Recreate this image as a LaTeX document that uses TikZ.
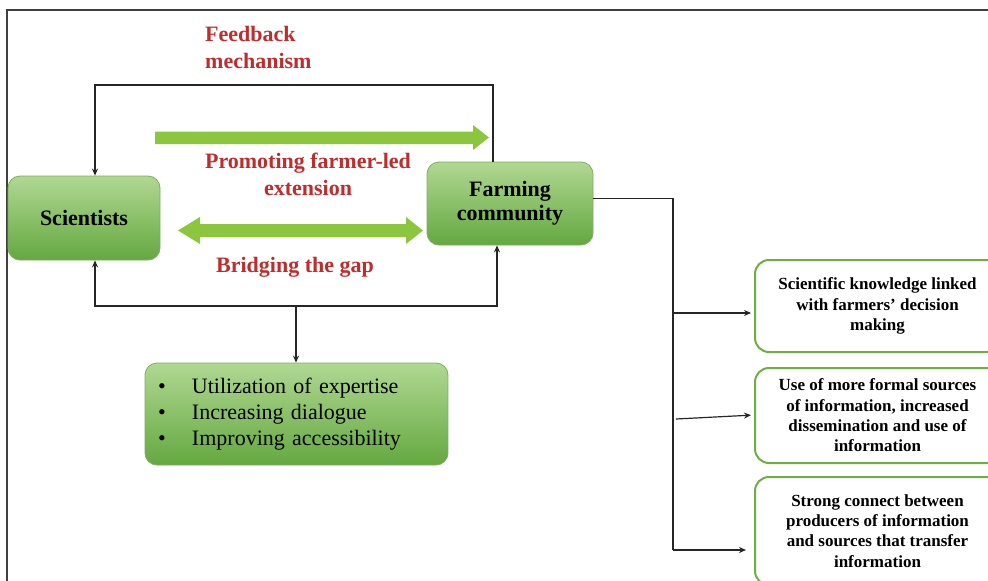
\documentclass[tikz,border=0pt]{standalone}
\usepackage{fontspec}
\setmainfont{Liberation Serif}
\usetikzlibrary{arrows.meta}
\definecolor{boxtop}{RGB}{176,216,146}
\definecolor{boxbot}{RGB}{100,168,64}
\definecolor{boxedge}{RGB}{130,170,100}
\definecolor{arrowgreen}{RGB}{140,198,63}
\definecolor{labelred}{RGB}{190,45,45}
\definecolor{outline}{RGB}{112,173,71}
\begin{document}
\begin{tikzpicture}[x=1pt,y=-1pt,
  gbox/.style={rectangle, rounded corners=12pt, top color=boxtop, bottom color=boxbot, draw=boxedge, line width=0.8pt, font=\fontsize{22}{24}\selectfont\bfseries, align=center, inner sep=0pt},
  wbox/.style={rectangle, rounded corners=14pt, draw=outline, line width=2pt, fill=white, font=\fontsize{17}{20.3}\selectfont\bfseries, align=center, minimum width=245pt, inner sep=0pt},
  lbl/.style={text=labelred, font=\fontsize{22}{27}\selectfont\bfseries, inner sep=0pt},
  conn/.style={line width=1.2pt, draw=black!85},
  tip/.style={-{Stealth[length=7pt,width=6pt]}},
  tips/.style={{Stealth[length=7pt,width=6pt]}-{Stealth[length=7pt,width=6pt]}},
  fat/.style={fill=arrowgreen}
]
\useasboundingbox[fill=white] (0,0) rectangle (988,581);
% frame
\draw[line width=2pt, black!75] (7,600) -- (7,10) -- (1010,10);

% main nodes
\node[gbox, minimum width=152pt, minimum height=84pt] (sci) at (84,218) {Scientists};
\node[gbox, minimum width=166pt, minimum height=83pt] (farm) at (510,203.5) {Farming\\community};
\node[gbox, minimum width=303pt, minimum height=102pt, font=\fontsize{22}{26}\selectfont, align=left, text width=277pt] (bul) at (296.5,414)
  {\makebox[34pt][l]{\textbullet}Utilization of expertise\\
   \makebox[34pt][l]{\textbullet}Increasing dialogue\\
   \makebox[34pt][l]{\textbullet}Improving accessibility};

% red labels
\node[lbl, anchor=north west, align=left] (fb) at (205,26) {Feedback\\mechanism};
\node[lbl, anchor=north, align=center] (pf) at (308,153) {Promoting farmer-led\\extension};
\node[lbl, anchor=north] (bg) at (295,257) {Bridging the gap};

% fat green arrows
\fill[fat] (155,131.5) -- (473,131.5) -- (473,125) -- (489,137.5) -- (473,150) -- (473,144) -- (155,144) -- cycle;
\fill[fat] (178,230.5) -- (200,217) -- (200,224) -- (406,224) -- (406,217) -- (423,230.5) -- (406,244) -- (406,237) -- (200,237) -- (200,244) -- cycle;

% right boxes
\node[wbox, minimum height=92pt] (r1) at (877.5,306) {Scientific knowledge linked\\with farmers’ decision\\making};
\node[wbox, minimum height=95pt] (r2) at (877.5,415.5) {Use of more formal sources\\of information, increased\\dissemination and use of\\information};
\node[wbox, minimum height=108pt] (r3) at (877.5,531) {Strong connect between\\producers of information\\and sources that transfer\\information};

% feedback connector
\coordinate (fl) at (95,85);
\coordinate (fr) at (493,85);
\draw[conn,tip] (farm.north -| fr) -- (fr) -- (fl) -- (sci.north -| fl);

% bottom connector
\coordinate (bl) at (95,306);
\coordinate (br) at (497,306);
\coordinate (bm) at (296,306);
\draw[conn,tips] (sci.south -| bl) -- (bl) -- (br) -- (farm.south -| br);
\draw[conn,tip] (bm) -- (bul.north -| bm);

% right tree
\coordinate (vb) at (673,550);
\coordinate (b1) at (673,313);
\coordinate (b2) at (676,419);
\coordinate (b2e) at (752,415);
\draw[conn] ([yshift=5pt]farm.east) -| (vb);
\draw[conn,tip,shorten >=3pt] (b1) -- (b1 -| r1.west);
\draw[conn,tip,shorten >=3pt] (b2) -- (b2e -| r2.west);
\draw[conn,tip,shorten >=8pt] (vb) -- (vb -| r3.west);
\end{tikzpicture}
\end{document}
